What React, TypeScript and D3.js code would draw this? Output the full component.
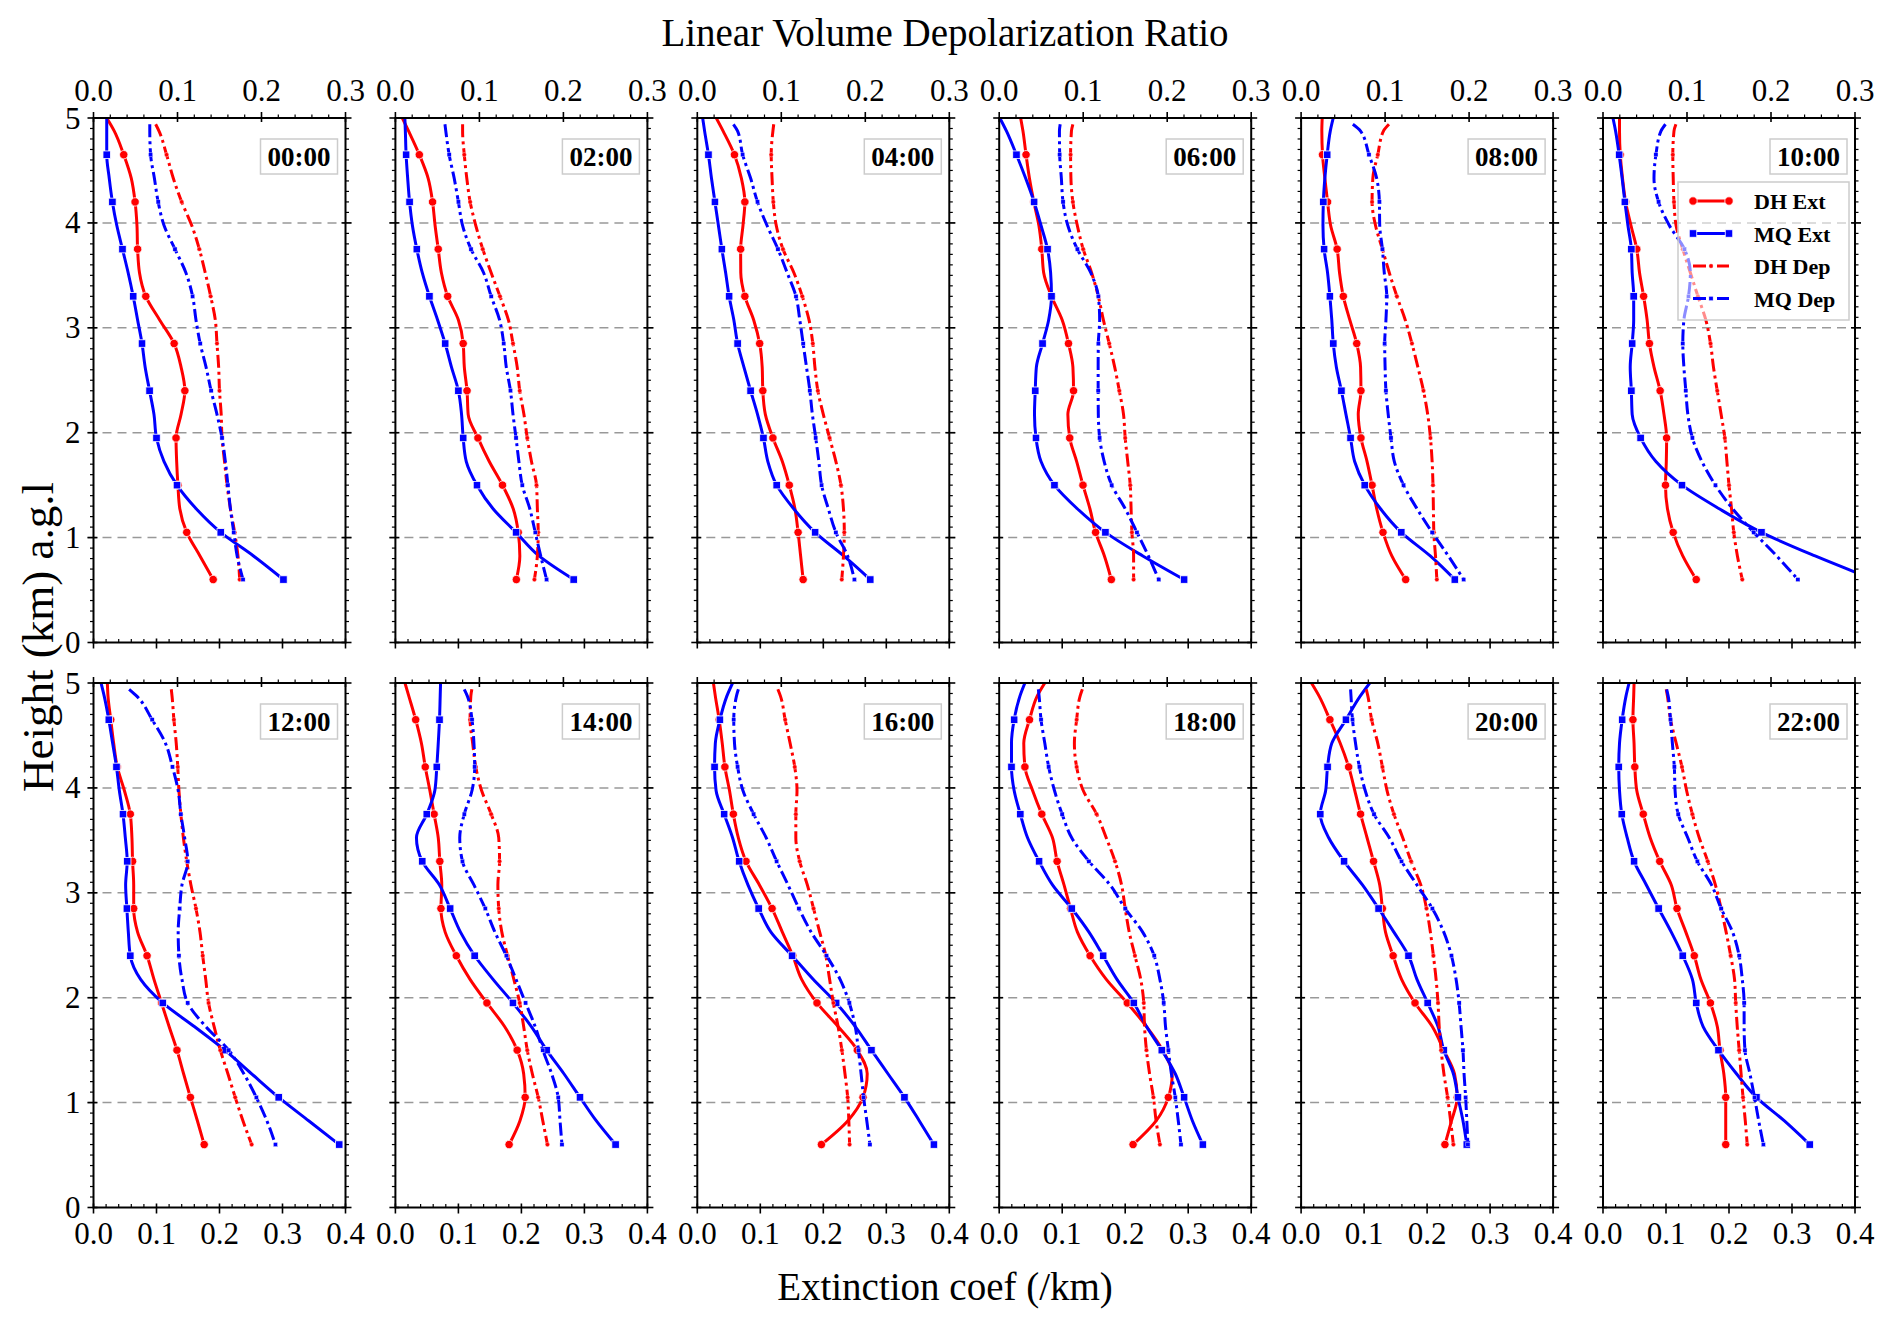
import React, { useEffect } from 'react';
import * as d3 from 'd3';

// panel titles, one per 2 h
const times = ['00:00', '02:00', '04:00', '06:00', '08:00', '10:00', '12:00', '14:00', '16:00', '18:00', '20:00', '22:00'];

// heights (km) of the profile points, bottom to top
const baseHeights = [0.6, 0.825, 1.05, 1.275, 1.5, 1.725, 1.95, 2.175, 2.4, 2.625, 2.85, 3.075, 3.3, 3.525, 3.75, 3.975, 4.2, 4.425, 4.65, 4.875];
const extHeights = [...baseHeights, 5.0];
const depHeights = [...baseHeights, 4.94];

// DH extinction coefficient (/km), one row per panel
const dhExt = [
  [0.190, 0.169, 0.148, 0.137, 0.134, 0.132, 0.131, 0.139, 0.145, 0.139, 0.128, 0.105, 0.083, 0.073, 0.070, 0.069, 0.066, 0.060, 0.048, 0.033, 0.021],
  [0.192, 0.1975, 0.195, 0.187, 0.170, 0.149, 0.131, 0.1155, 0.1137, 0.1094, 0.1076, 0.100, 0.083, 0.073, 0.068, 0.063, 0.059, 0.052, 0.038, 0.021, 0.011],
  [0.168, 0.164, 0.160, 0.155, 0.146, 0.135, 0.120, 0.108, 0.104, 0.103, 0.099, 0.0895, 0.0755, 0.069, 0.0688, 0.0725, 0.0755, 0.070, 0.059, 0.041, 0.030],
  [0.178, 0.167, 0.153, 0.144, 0.133, 0.123, 0.112, 0.109, 0.118, 0.117, 0.110, 0.100, 0.083, 0.0706, 0.0676, 0.063, 0.055, 0.048, 0.0426, 0.0377, 0.034],
  [0.166, 0.144, 0.130, 0.120, 0.1126, 0.1047, 0.095, 0.0907, 0.095, 0.0944, 0.0883, 0.0773, 0.067, 0.061, 0.0572, 0.0469, 0.042, 0.0377, 0.034, 0.0329, 0.0335],
  [0.148, 0.1266, 0.1114, 0.1023, 0.0992, 0.1005, 0.101, 0.0968, 0.0907, 0.081, 0.0737, 0.070, 0.0645, 0.058, 0.0536, 0.0444, 0.0359, 0.031, 0.0274, 0.0262, 0.0262],
  [0.1757, 0.165, 0.1538, 0.143, 0.1325, 0.120, 0.108, 0.096, 0.085, 0.070, 0.0638, 0.0638, 0.062, 0.061, 0.0584, 0.049, 0.0377, 0.032, 0.0274, 0.023, 0.022],
  [0.1805, 0.1976, 0.206, 0.2036, 0.1933, 0.1733, 0.1453, 0.1185, 0.0967, 0.079, 0.0723, 0.0736, 0.0705, 0.068, 0.0614, 0.0547, 0.0474, 0.0413, 0.0322, 0.0213, 0.0152],
  [0.197, 0.2387, 0.263, 0.2697, 0.254, 0.2234, 0.190, 0.1656, 0.1516, 0.135, 0.1187, 0.0986, 0.0773, 0.0651, 0.0572, 0.0511, 0.0438, 0.0396, 0.0347, 0.0286, 0.0256],
  [0.2125, 0.249, 0.2685, 0.2746, 0.2594, 0.2338, 0.2033, 0.170, 0.1443, 0.1242, 0.1132, 0.1029, 0.0919, 0.0846, 0.0676, 0.053, 0.0408, 0.039, 0.0481, 0.0603, 0.0724],
  [0.2283, 0.2387, 0.2478, 0.2435, 0.2265, 0.2082, 0.1808, 0.1595, 0.1461, 0.134, 0.129, 0.1248, 0.115, 0.1047, 0.0944, 0.0852, 0.0755, 0.0621, 0.0457, 0.0286, 0.0164],
  [0.1948, 0.1948, 0.1948, 0.1918, 0.1857, 0.1814, 0.1705, 0.1553, 0.1449, 0.1315, 0.1175, 0.1084, 0.0901, 0.0749, 0.0639, 0.0536, 0.0505, 0.0493, 0.0475, 0.0487, 0.0493],
];

// MQ extinction coefficient (/km)
const mqExt = [
  [0.3015, 0.254, 0.202, 0.163, 0.1325, 0.112, 0.100, 0.096, 0.089, 0.082, 0.077, 0.070, 0.063, 0.055, 0.046, 0.037, 0.030, 0.025, 0.021, 0.021, 0.021],
  [0.283, 0.228, 0.1915, 0.155, 0.1295, 0.1125, 0.1076, 0.105, 0.100, 0.089, 0.079, 0.067, 0.054, 0.0426, 0.034, 0.027, 0.0225, 0.0195, 0.017, 0.0158, 0.015],
  [0.2745, 0.2325, 0.187, 0.153, 0.126, 0.112, 0.105, 0.0956, 0.0846, 0.074, 0.064, 0.058, 0.0505, 0.045, 0.039, 0.0335, 0.028, 0.0225, 0.0177, 0.0116, 0.0085],
  [0.2935, 0.228, 0.1686, 0.124, 0.0877, 0.0664, 0.0584, 0.056, 0.0572, 0.059, 0.0688, 0.0785, 0.083, 0.0816, 0.0767, 0.0664, 0.0554, 0.042, 0.0274, 0.0116, 0.001],
  [0.244, 0.205, 0.159, 0.126, 0.101, 0.085, 0.0785, 0.0712, 0.064, 0.056, 0.0511, 0.0487, 0.0457, 0.042, 0.0365, 0.0347, 0.0353, 0.0377, 0.0414, 0.0463, 0.051],
  [0.43, 0.3367, 0.2515, 0.1845, 0.1254, 0.084, 0.0597, 0.0463, 0.045, 0.0432, 0.0463, 0.0487, 0.0487, 0.0463, 0.045, 0.0396, 0.0347, 0.0304, 0.0256, 0.020, 0.0158],
  [0.390, 0.342, 0.294, 0.251, 0.2085, 0.160, 0.110, 0.0748, 0.0584, 0.0553, 0.053, 0.051, 0.0535, 0.0505, 0.0468, 0.041, 0.0365, 0.0304, 0.0243, 0.017, 0.012],
  [0.3495, 0.319, 0.293, 0.2675, 0.240, 0.2158, 0.1866, 0.155, 0.1258, 0.1033, 0.0869, 0.070, 0.0426, 0.0334, 0.0498, 0.0626, 0.0657, 0.068, 0.070, 0.0711, 0.0717],
  [0.3756, 0.3525, 0.3288, 0.3026, 0.2764, 0.2508, 0.2204, 0.1839, 0.1504, 0.1169, 0.0974, 0.0804, 0.0664, 0.056, 0.0426, 0.0298, 0.0274, 0.0286, 0.0359, 0.0469, 0.056],
  [0.3233, 0.3068, 0.2935, 0.2795, 0.2581, 0.2338, 0.2137, 0.1869, 0.165, 0.1425, 0.1151, 0.0846, 0.0633, 0.045, 0.0335, 0.0237, 0.0195, 0.0195, 0.0237, 0.0329, 0.0408],
  [0.263, 0.257, 0.249, 0.2417, 0.2265, 0.2173, 0.2009, 0.1839, 0.1705, 0.1473, 0.123, 0.0974, 0.0682, 0.0438, 0.0304, 0.039, 0.042, 0.0487, 0.0712, 0.0938, 0.109],
  [0.3282, 0.288, 0.2435, 0.2119, 0.1833, 0.1589, 0.148, 0.1419, 0.1266, 0.1084, 0.0883, 0.0688, 0.0493, 0.0384, 0.0298, 0.0262, 0.025, 0.0262, 0.0304, 0.0365, 0.0414],
];

// DH linear volume depolarization ratio
const dhDep = [
  [0.174, 0.172, 0.168, 0.163, 0.159, 0.156, 0.153, 0.152, 0.150, 0.149, 0.147, 0.145, 0.1395, 0.133, 0.126, 0.117, 0.105, 0.095, 0.087, 0.078, 0.074],
  [0.1655, 0.169, 0.170, 0.169, 0.168, 0.162, 0.157, 0.153, 0.148, 0.145, 0.140, 0.1345, 0.1245, 0.114, 0.104, 0.0957, 0.089, 0.085, 0.082, 0.080, 0.080],
  [0.172, 0.174, 0.175, 0.174, 0.171, 0.165, 0.1575, 0.150, 0.1435, 0.140, 0.1375, 0.133, 0.125, 0.115, 0.102, 0.094, 0.0905, 0.089, 0.088, 0.090, 0.091],
  [0.160, 0.160, 0.158, 0.157, 0.156, 0.153, 0.150, 0.148, 0.143, 0.1375, 0.131, 0.124, 0.118, 0.110, 0.100, 0.093, 0.0877, 0.0854, 0.085, 0.086, 0.0877],
  [0.1616, 0.160, 0.158, 0.1575, 0.157, 0.156, 0.154, 0.1507, 0.1457, 0.139, 0.132, 0.124, 0.114, 0.105, 0.0968, 0.0886, 0.0845, 0.0854, 0.0913, 0.098, 0.1046],
  [0.1658, 0.160, 0.1557, 0.153, 0.150, 0.1475, 0.145, 0.1406, 0.136, 0.1315, 0.128, 0.1224, 0.113, 0.104, 0.095, 0.087, 0.0845, 0.0836, 0.0831, 0.0845, 0.0868],
  [0.1883, 0.178, 0.1687, 0.160, 0.151, 0.1436, 0.137, 0.1336, 0.130, 0.1268, 0.122, 0.116, 0.111, 0.107, 0.104, 0.1017, 0.1003, 0.0985, 0.0957, 0.0935, 0.0926],
  [0.181, 0.1755, 0.170, 0.163, 0.157, 0.1527, 0.148, 0.141, 0.1336, 0.1267, 0.123, 0.122, 0.124, 0.123, 0.114, 0.1026, 0.0957, 0.092, 0.0889, 0.0898, 0.091],
  [0.1813, 0.1804, 0.179, 0.1758, 0.1721, 0.1676, 0.162, 0.1575, 0.153, 0.1457, 0.1384, 0.131, 0.1219, 0.1173, 0.1173, 0.1187, 0.116, 0.1105, 0.1046, 0.099, 0.0959],
  [0.1913, 0.1868, 0.1836, 0.179, 0.1753, 0.173, 0.1721, 0.1685, 0.1616, 0.1548, 0.150, 0.1457, 0.1379, 0.1274, 0.116, 0.100, 0.0922, 0.0895, 0.0922, 0.0963, 0.099],
  [0.1813, 0.178, 0.1744, 0.170, 0.1667, 0.1644, 0.163, 0.1607, 0.1575, 0.1539, 0.1493, 0.1425, 0.131, 0.121, 0.1105, 0.1023, 0.0968, 0.0913, 0.084, 0.0795, 0.0776],
  [0.1717, 0.1694, 0.1667, 0.1644, 0.1621, 0.1598, 0.158, 0.1566, 0.152, 0.1466, 0.1406, 0.1338, 0.1247, 0.1146, 0.1064, 0.0995, 0.094, 0.0872, 0.0804, 0.0767, 0.0753],
];

// MQ linear volume depolarization ratio
const mqDep = [
  [0.178, 0.171, 0.167, 0.163, 0.160, 0.157, 0.153, 0.147, 0.140, 0.134, 0.127, 0.122, 0.118, 0.110, 0.097, 0.084, 0.077, 0.0725, 0.068, 0.067, 0.067],
  [0.180, 0.173, 0.1665, 0.160, 0.151, 0.147, 0.1436, 0.140, 0.137, 0.132, 0.129, 0.124, 0.114, 0.105, 0.090, 0.080, 0.075, 0.070, 0.064, 0.060, 0.059],
  [0.187, 0.179, 0.165, 0.156, 0.148, 0.1447, 0.141, 0.137, 0.134, 0.130, 0.126, 0.122, 0.1175, 0.107, 0.096, 0.083, 0.0717, 0.0635, 0.054, 0.048, 0.043],
  [0.190, 0.1776, 0.164, 0.150, 0.134, 0.125, 0.1196, 0.118, 0.1178, 0.1178, 0.118, 0.1196, 0.118, 0.109, 0.093, 0.0817, 0.076, 0.074, 0.072, 0.0717, 0.0726],
  [0.1936, 0.1753, 0.156, 0.138, 0.122, 0.111, 0.107, 0.1037, 0.101, 0.100, 0.0995, 0.101, 0.102, 0.099, 0.0968, 0.0936, 0.0932, 0.090, 0.0808, 0.0708, 0.0616],
  [0.232, 0.2068, 0.1795, 0.1543, 0.1338, 0.1178, 0.1064, 0.101, 0.0986, 0.0963, 0.095, 0.0963, 0.1018, 0.104, 0.097, 0.079, 0.0662, 0.0607, 0.063, 0.069, 0.0744],
  [0.2166, 0.2065, 0.1938, 0.179, 0.161, 0.1336, 0.1122, 0.1053, 0.1017, 0.1008, 0.1026, 0.1053, 0.1122, 0.1085, 0.104, 0.1008, 0.094, 0.0857, 0.0698, 0.0515, 0.0424],
  [0.1983, 0.196, 0.1938, 0.186, 0.1755, 0.1664, 0.155, 0.1436, 0.132, 0.1185, 0.107, 0.0935, 0.0798, 0.0766, 0.082, 0.0912, 0.0944, 0.0935, 0.0912, 0.0857, 0.082],
  [0.2055, 0.2018, 0.198, 0.195, 0.1918, 0.188, 0.181, 0.170, 0.1539, 0.1356, 0.121, 0.108, 0.0945, 0.082, 0.0671, 0.0543, 0.048, 0.0443, 0.0434, 0.0466, 0.0489],
  [0.2164, 0.2132, 0.2096, 0.205, 0.2014, 0.198, 0.1959, 0.1913, 0.1845, 0.1708, 0.150, 0.132, 0.1068, 0.0863, 0.0749, 0.0658, 0.0589, 0.0543, 0.0498, 0.0475, 0.0466],
  [0.1986, 0.1973, 0.1959, 0.194, 0.1927, 0.1904, 0.1881, 0.1845, 0.179, 0.1699, 0.1562, 0.1379, 0.1196, 0.105, 0.0868, 0.0763, 0.0694, 0.0648, 0.0612, 0.0594, 0.0589],
  [0.1909, 0.1854, 0.1804, 0.1749, 0.169, 0.168, 0.168, 0.1658, 0.1621, 0.1543, 0.1406, 0.1292, 0.1123, 0.1009, 0.0895, 0.0858, 0.0849, 0.0826, 0.0804, 0.0776, 0.0758],
];

const extTicks = [0, 0.1, 0.2, 0.3, 0.4];
const depTicks = [0, 0.1, 0.2, 0.3];
const heightTicks = [0, 1, 2, 3, 4, 5];
const gridHeights = [1, 2, 3, 4];

const FONT = "'Liberation Serif', 'Times New Roman', serif";
const WIDTH = 1892;
const HEIGHT = 1327;
const LEFT0 = 93.5;
const PITCH = 301.9;
const PW = 252;
const PH = 524.5;
const TOPS = [118, 683];

type Series = {
  name: string;
  values: number[][];
  color: string;
  kind: 'ext' | 'dep';
  marker: 'circle' | 'square';
};

const series: Series[] = [
  { name: 'DH Ext', values: dhExt, color: '#ff0000', kind: 'ext', marker: 'circle' },
  { name: 'MQ Ext', values: mqExt, color: '#0000ff', kind: 'ext', marker: 'square' },
  { name: 'DH Dep', values: dhDep, color: '#ff0000', kind: 'dep', marker: 'circle' },
  { name: 'MQ Dep', values: mqDep, color: '#0000ff', kind: 'dep', marker: 'square' },
];

const DASHDOT = '13,4,3,4';

const isMajor = (v: number, step: number) => Math.abs(v / step - Math.round(v / step)) < 1e-6;

function Marker({ x, y, s }: { x: number; y: number; s: Series }) {
  const big = s.kind === 'ext';
  if (s.marker === 'circle') {
    const r = big ? 4.2 : 2.2;
    return <circle cx={x} cy={y} r={r} fill={s.color} stroke="#fff" strokeWidth={big ? 0.8 : 0.4} />;
  }
  const a = big ? 7.5 : 4.2;
  return <rect x={x - a / 2} y={y - a / 2} width={a} height={a} fill={s.color} stroke="#fff" strokeWidth={big ? 0.8 : 0.4} />;
}

function Legend({ right, top }: { right: number; top: number }) {
  const x0 = right - 177;
  const y0 = top + 64;
  return (
    <g>
      <rect x={x0} y={y0} width={171} height={138} fill="#fff" fillOpacity={0.55} stroke="#cccccc" strokeWidth={1.5} />
      {series.map((s, k) => {
        const cy = y0 + 19 + k * 32.5;
        const lx0 = x0 + 15;
        const lx1 = x0 + 51;
        return (
          <g key={s.name}>
            <line x1={lx0} x2={lx1} y1={cy} y2={cy} stroke={s.color} strokeWidth={3}
              strokeDasharray={s.kind === 'dep' ? DASHDOT : undefined} />
            {s.kind === 'ext' ? (
              <>
                <Marker x={lx0} y={cy} s={s} />
                <Marker x={lx1} y={cy} s={s} />
              </>
            ) : (
              <Marker x={(lx0 + lx1) / 2} y={cy} s={s} />
            )}
            <text x={x0 + 76} y={cy + 8} fontFamily={FONT} fontWeight="bold" fontSize={22}>{s.name}</text>
          </g>
        );
      })}
    </g>
  );
}

function Panel({ i }: { i: number }) {
  const col = i % 6;
  const row = Math.floor(i / 6);
  const left = LEFT0 + col * PITCH;
  const top = TOPS[row];
  const right = left + PW;
  const bottom = top + PH;

  const y = d3.scaleLinear().domain([0, 5]).range([bottom, top]);
  const xe = d3.scaleLinear().domain([0, 0.4]).range([left, right]);
  const xd = d3.scaleLinear().domain([0, 0.3]).range([left, right]);
  const line = d3.line<[number, number]>().x((d) => d[0]).y((d) => d[1]).curve(d3.curveMonotoneY);

  const hMinor = d3.range(0, 50.5).map((k) => k / 10);
  const eMinor = d3.range(0, 20.5).map((k) => k / 50);
  const dMinor = d3.range(0, 15.5).map((k) => k / 50);
  const clipId = `clip-${i}`;

  return (
    <g>
      <defs>
        <clipPath id={clipId}>
          <rect x={left} y={top} width={PW} height={PH} />
        </clipPath>
      </defs>

      {gridHeights.map((h) => (
        <line key={h} x1={left - 6} x2={right + 6} y1={y(h)} y2={y(h)} stroke="#999" strokeWidth={1.5} strokeDasharray="9,6" />
      ))}

      <g clipPath={`url(#${clipId})`}>
        {series.map((s) => {
          const xs = s.kind === 'ext' ? xe : xd;
          const hs = s.kind === 'ext' ? extHeights : depHeights;
          const pts = s.values[i].map((v, k) => [xs(v), y(hs[k])] as [number, number]).reverse();
          return (
            <g key={s.name}>
              <path d={line(pts) || ''} fill="none" stroke={s.color} strokeWidth={3}
                strokeDasharray={s.kind === 'dep' ? DASHDOT : undefined} />
              {s.values[i].map((v, k) => (k % 2 === 0 && k < 20 ? <Marker key={k} x={xs(v)} y={y(hs[k])} s={s} /> : null))}
            </g>
          );
        })}
      </g>

      <rect x={left} y={top} width={PW} height={PH} fill="none" stroke="#000" strokeWidth={2} />

      {hMinor.map((h) => {
        const major = isMajor(h, 1);
        const t = major ? 6 : 3.5;
        return (
          <g key={`h${h}`} stroke="#000" strokeWidth={major ? 1.6 : 1.2}>
            <line x1={left - t} x2={major ? left + 4 : left} y1={y(h)} y2={y(h)} />
            <line x1={major ? right - 4 : right} x2={right + t} y1={y(h)} y2={y(h)} />
          </g>
        );
      })}
      {dMinor.map((v) => {
        const major = isMajor(v, 0.1);
        return (
          <line key={`d${v}`} x1={xd(v)} x2={xd(v)} y1={top - (major ? 6 : 3.5)} y2={major ? top + 4 : top}
            stroke="#000" strokeWidth={major ? 1.6 : 1.2} />
        );
      })}
      {eMinor.map((v) => {
        const major = isMajor(v, 0.1);
        return (
          <line key={`e${v}`} x1={xe(v)} x2={xe(v)} y1={major ? bottom - 4 : bottom - 3.5} y2={major ? bottom + 6 : bottom}
            stroke="#000" strokeWidth={major ? 1.6 : 1.2} />
        );
      })}

      {row === 0 &&
        depTicks.map((v) => (
          <text key={`dl${v}`} x={xd(v)} y={top - 17} textAnchor="middle" fontFamily={FONT} fontSize={31}>{v.toFixed(1)}</text>
        ))}
      {row === 1 &&
        extTicks.map((v) => (
          <text key={`el${v}`} x={xe(v)} y={bottom + 36} textAnchor="middle" fontFamily={FONT} fontSize={31}>{v.toFixed(1)}</text>
        ))}
      {col === 0 &&
        heightTicks.map((h) => (
          <text key={`hl${h}`} x={left - 13} y={y(h) + 10.5} textAnchor="end" fontFamily={FONT} fontSize={31}>{h}</text>
        ))}

      <rect x={right - 85} y={top + 21} width={77} height={35} fill="#fff" stroke="#cccccc" strokeWidth={1.5} />
      <text x={right - 46.5} y={top + 47.5} textAnchor="middle" fontFamily={FONT} fontWeight="bold" fontSize={27}>{times[i]}</text>

      {i === 5 && <Legend right={right} top={top} />}
    </g>
  );
}

export default function App() {
  useEffect(() => {
    document.body.style.margin = '0';
  }, []);

  return (
    <svg width={WIDTH} height={HEIGHT} viewBox={`0 0 ${WIDTH} ${HEIGHT}`} style={{ display: 'block', background: '#fff' }}>
      <rect width={WIDTH} height={HEIGHT} fill="#fff" />
      <text x={945} y={46} textAnchor="middle" fontFamily={FONT} fontSize={39}>Linear Volume Depolarization Ratio</text>
      {times.map((t, i) => (
        <Panel key={t} i={i} />
      ))}
      <text x={945} y={1300} textAnchor="middle" fontFamily={FONT} fontSize={39}>Extinction coef (/km)</text>
      <text transform="translate(53,637) rotate(-90)" textAnchor="middle" fontFamily={FONT} fontSize={45}>Height (km) a.g.l</text>
    </svg>
  );
}
